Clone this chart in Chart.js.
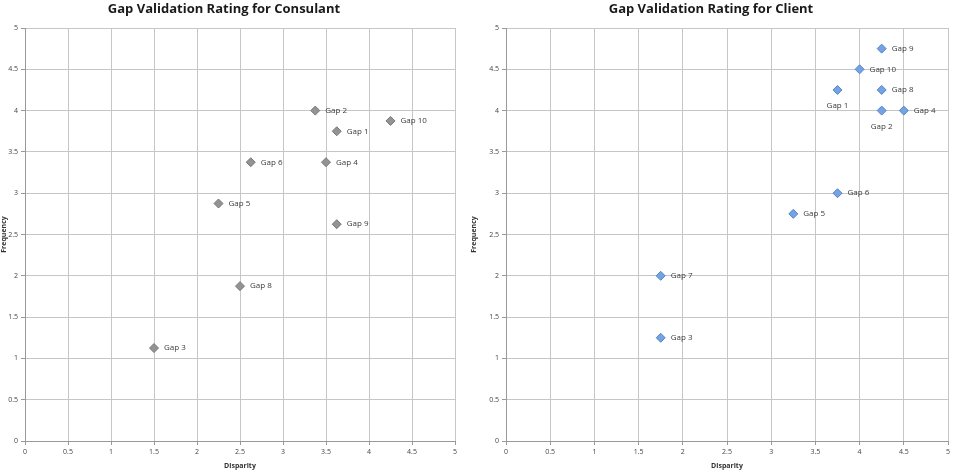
<!DOCTYPE html>
<html>
<head>
<meta charset="utf-8">
<script src="https://cdn.jsdelivr.net/npm/chart.js@4/dist/chart.umd.min.js"></script>
<style>
  html, body { margin: 0; padding: 0; background: #fff; }
  #wrap { position: relative; width: 959px; height: 472px; overflow: hidden; }
  .box { position: absolute; top: 0; height: 472px; }
  #boxL { left: 0; width: 470px; }
  #boxR { left: 470px; width: 489px; }
</style>
</head>
<body>
<div id="wrap">
  <div class="box" id="boxL"><canvas id="consultantChart"></canvas></div>
  <div class="box" id="boxR"><canvas id="clientChart"></canvas></div>
</div>
<script>
// consultant ratings (no Gap 7 on this one)
const consultantGaps = ["Gap 1", "Gap 2", "Gap 3", "Gap 4", "Gap 5", "Gap 6", "Gap 8", "Gap 9", "Gap 10"];
const consultantDisparity = [3.625, 3.375, 1.5, 3.5, 2.25, 2.625, 2.5, 3.625, 4.25];
const consultantFrequency = [3.75, 4.0, 1.125, 3.375, 2.875, 3.375, 1.875, 2.625, 3.875];

// client ratings
const clientGaps = ["Gap 1", "Gap 2", "Gap 3", "Gap 4", "Gap 5", "Gap 6", "Gap 7", "Gap 8", "Gap 9", "Gap 10"];
const clientDisparity = [3.75, 4.25, 1.75, 4.5, 3.25, 3.75, 1.75, 4.25, 4.25, 4.0];
const clientFrequency = [4.25, 4.0, 1.25, 4.0, 2.75, 3.0, 2.0, 4.25, 4.75, 4.5];
const clientLabelsBelow = ["Gap 1", "Gap 2"];

const axisMin = 0, axisMax = 5, axisStep = 0.5;

const FONT = "'Open Sans', 'Liberation Sans', sans-serif";

// draws "Gap n" next to each point
const gapLabels = {
  id: "gapLabels",
  afterDatasetsDraw(chart) {
    const ctx = chart.ctx;
    const ds = chart.data.datasets[0];
    const below = ds.labelsBelow || [];
    const meta = chart.getDatasetMeta(0);
    ctx.save();
    ctx.font = "8px " + FONT;
    ctx.fillStyle = "#3a3a3a";
    ctx.textBaseline = "middle";
    meta.data.forEach((pt, i) => {
      const name = ds.gapNames[i];
      if (below.includes(name)) {
        ctx.textAlign = "center";
        ctx.fillText(name, pt.x, pt.y + 16);
      } else {
        ctx.textAlign = "left";
        ctx.fillText(name, pt.x + 10, pt.y);
      }
    });
    ctx.restore();
  }
};

// bold heading above the plot
const sheetTitle = {
  id: "sheetTitle",
  afterDraw(chart, args, opts) {
    const ctx = chart.ctx;
    const a = chart.chartArea;
    ctx.save();
    ctx.font = "bold 13px " + FONT;
    ctx.fillStyle = "#1a1a1a";
    ctx.textAlign = "center";
    ctx.textBaseline = "middle";
    ctx.fillText(opts.text, (a.left + a.right) / 2 + opts.shift, 9);
    ctx.restore();
  }
};

function makeChart(canvasId, title, names, xs, ys, fill, stroke, yWidth, rightPad, below) {
  const points = xs.map((x, i) => ({ x: x, y: ys[i] }));
  const axis = (label) => ({
    type: "linear",
    min: axisMin,
    max: axisMax,
    ticks: {
      stepSize: axisStep,
      color: "#444",
      font: { family: FONT, size: 7 },
      padding: 3,
      callback: (v) => String(v)
    },
    grid: { color: "#c6c6c6", lineWidth: 1, tickLength: 4, tickColor: "#999" },
    border: { color: "#999", width: 1 },
    title: { display: true, text: label, color: "#333", font: { family: FONT, size: 7, weight: "bold" }, padding: 2 }
  });
  const xAxis = axis("Disparity");
  xAxis.afterFit = (s) => { s.height = 31; };
  const yAxis = axis("Frequency");
  yAxis.afterFit = (s) => { s.width = yWidth; };
  yAxis.title.padding = 0;

  return new Chart(document.getElementById(canvasId).getContext("2d"), {
    type: "scatter",
    data: {
      datasets: [{
        data: points,
        gapNames: names,
        labelsBelow: below,
        pointStyle: "rectRot",
        pointRadius: 4.5,
        pointBackgroundColor: fill,
        pointBorderColor: stroke,
        pointBorderWidth: 1
      }]
    },
    options: {
      responsive: true,
      maintainAspectRatio: false,
      animation: false,
      layout: { padding: { top: 28, right: rightPad, left: 0, bottom: 0 } },
      plugins: {
        legend: { display: false },
        tooltip: { enabled: false },
        sheetTitle: { text: title, shift: -16 }
      },
      scales: { x: xAxis, y: yAxis }
    },
    plugins: [gapLabels, sheetTitle]
  });
}

makeChart("consultantChart", "Gap Validation Rating for Consulant",
  consultantGaps, consultantDisparity, consultantFrequency,
  "#939393", "#777777", 25, 15, []);

makeChart("clientChart", "Gap Validation Rating for Client",
  clientGaps, clientDisparity, clientFrequency,
  "#74a2e2", "#5584c8", 36, 11, clientLabelsBelow);
</script>
</body>
</html>
